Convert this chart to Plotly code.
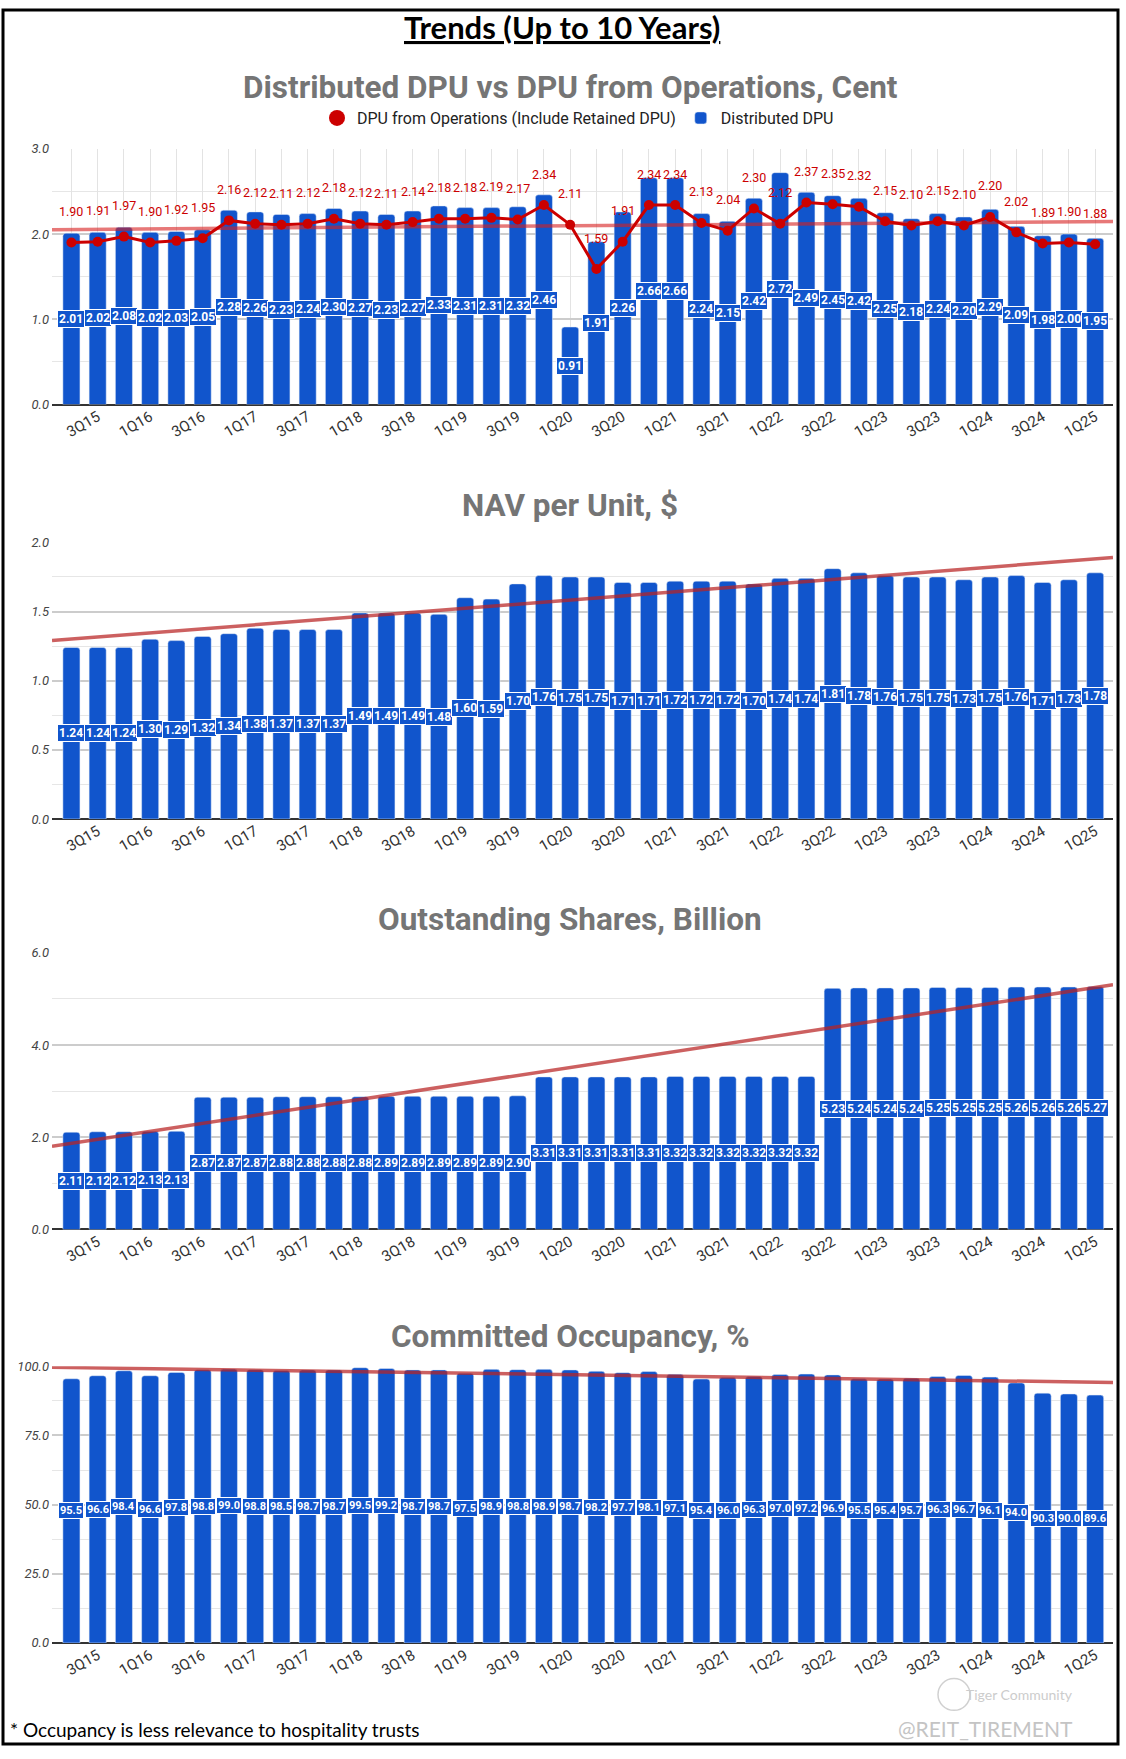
import numpy as np
import plotly.graph_objects as go

W, H = 1126, 1759

quarters = ["2Q15", "3Q15", "4Q15",
            "1Q16", "2Q16", "3Q16", "4Q16",
            "1Q17", "2Q17", "3Q17", "4Q17",
            "1Q18", "2Q18", "3Q18", "4Q18",
            "1Q19", "2Q19", "3Q19", "4Q19",
            "1Q20", "2Q20", "3Q20", "4Q20",
            "1Q21", "2Q21", "3Q21", "4Q21",
            "1Q22", "2Q22", "3Q22", "4Q22",
            "1Q23", "2Q23", "3Q23", "4Q23",
            "1Q24", "2Q24", "3Q24", "4Q24",
            "1Q25"]

dpu_distributed = [2.01, 2.02, 2.08, 2.02, 2.03, 2.05, 2.28, 2.26, 2.23, 2.24,
                   2.30, 2.27, 2.23, 2.27, 2.33, 2.31, 2.31, 2.32, 2.46, 0.91,
                   1.91, 2.26, 2.66, 2.66, 2.24, 2.15, 2.42, 2.72, 2.49, 2.45,
                   2.42, 2.25, 2.18, 2.24, 2.20, 2.29, 2.09, 1.98, 2.00, 1.95]
dpu_operations = [1.90, 1.91, 1.97, 1.90, 1.92, 1.95, 2.16, 2.12, 2.11, 2.12,
                  2.18, 2.12, 2.11, 2.14, 2.18, 2.18, 2.19, 2.17, 2.34, 2.11,
                  1.59, 1.91, 2.34, 2.34, 2.13, 2.04, 2.30, 2.12, 2.37, 2.35,
                  2.32, 2.15, 2.10, 2.15, 2.10, 2.20, 2.02, 1.89, 1.90, 1.88]
nav_per_unit = [1.24, 1.24, 1.24, 1.30, 1.29, 1.32, 1.34, 1.38, 1.37, 1.37,
                1.37, 1.49, 1.49, 1.49, 1.48, 1.60, 1.59, 1.70, 1.76, 1.75,
                1.75, 1.71, 1.71, 1.72, 1.72, 1.72, 1.70, 1.74, 1.74, 1.81,
                1.78, 1.76, 1.75, 1.75, 1.73, 1.75, 1.76, 1.71, 1.73, 1.78]
shares_bn = [2.11, 2.12, 2.12, 2.13, 2.13, 2.87, 2.87, 2.87, 2.88, 2.88,
             2.88, 2.88, 2.89, 2.89, 2.89, 2.89, 2.89, 2.90, 3.31, 3.31,
             3.31, 3.31, 3.31, 3.32, 3.32, 3.32, 3.32, 3.32, 3.32, 5.23,
             5.24, 5.24, 5.24, 5.25, 5.25, 5.25, 5.26, 5.26, 5.26, 5.27]
occupancy = [95.5, 96.6, 98.4, 96.6, 97.8, 98.8, 99.0, 98.8, 98.5, 98.7,
             98.7, 99.5, 99.2, 98.7, 98.7, 97.5, 98.9, 98.8, 98.9, 98.7,
             98.2, 97.7, 98.1, 97.1, 95.4, 96.0, 96.3, 97.0, 97.2, 96.9,
             95.5, 95.4, 95.7, 96.3, 96.7, 96.1, 94.0, 90.3, 90.0, 89.6]

BLUE = "#1155cc"
RED = "#cc0000"
idx = list(range(len(quarters)))
tick_text = [q if i % 2 == 1 else "" for i, q in enumerate(quarters)]
X_RANGE = [-0.74, 39.68]


def px_x(x):
    return x / W


def px_y(y):
    return 1 - y / H


# panels: pixel box of the plot area, y range, major / minor grid step
panels = [
    dict(top=143, bottom=401, rng=[0, 3], dtick=1, minor=0.5, title="Distributed DPU vs DPU from Operations, Cent", title_y=81),
    dict(top=540, bottom=819, rng=[0, 2], dtick=0.5, minor=0.25, title="NAV per Unit, $", title_y=503),
    dict(top=954, bottom=1233, rng=[0, 6], dtick=2, minor=1, title="Outstanding Shares, Billion", title_y=920),
    dict(top=1371, bottom=1650, rng=[0, 100], dtick=25, minor=12.5, title="Committed Occupancy, %", title_y=1341),
]
bar_series = [dpu_distributed, nav_per_unit, shares_bn, occupancy]
label_fmt = ["{:.2f}", "{:.2f}", "{:.2f}", "{:.1f}"]

fig = go.Figure()
annotations = []
layout = {}

for k, p in enumerate(panels):
    n = "" if k == 0 else str(k + 1)
    xa, ya = "x" + n, "y" + n
    vals = bar_series[k]

    fig.add_trace(go.Bar(
        x=idx, y=vals, xaxis=xa, yaxis=ya,
        marker=dict(color=BLUE, cornerradius=3),
        width=0.65, name="Distributed DPU",
        showlegend=(k == 0), legendrank=2, hoverinfo="y"
    ))

    # linear trendline across the whole plot width
    fit_on = dpu_operations if k == 0 else vals
    coef = np.polyfit(idx, fit_on, 1)
    tx = np.array(X_RANGE)
    color = "rgba(215,30,30,0.6)" if k == 0 else "rgba(185,35,35,0.72)"
    fig.add_trace(go.Scatter(
        x=tx, y=np.polyval(coef, tx), xaxis=xa, yaxis=ya,
        mode="lines", line=dict(color=color, width=3.5),
        showlegend=False, hoverinfo="skip"
    ))

    if k == 0:
        fig.add_trace(go.Scatter(
            x=idx, y=dpu_operations, xaxis=xa, yaxis=ya,
            mode="lines+markers", line=dict(color=RED, width=3),
            marker=dict(color=RED, size=10),
            showlegend=False
        ))
        # legend entry shown as a plain dot
        fig.add_trace(go.Scatter(
            x=[None], y=[None], mode="markers",
            marker=dict(color=RED, size=16),
            name="DPU from Operations (Include Retained DPU)",
            legendrank=1
        ))
        for i, v in enumerate(dpu_operations):
            annotations.append(dict(
                x=i, y=v, xref=xa, yref=ya, text="{:.2f}".format(v),
                showarrow=False, yshift=31,
                font=dict(family="Roboto", size=12.5, color=RED)
            ))

    for i, v in enumerate(vals):
        annotations.append(dict(
            x=i, y=v / 2, xref=xa, yref=ya, text="<b>" + label_fmt[k].format(v) + "</b>",
            showarrow=False, bgcolor=BLUE, bordercolor="white", borderwidth=1, borderpad=1,
            font=dict(family="Roboto", size=12 if k < 3 else 11, color="white")
        ))

    layout["xaxis" + n] = dict(
        domain=[px_x(52), px_x(1113)], anchor=ya, range=X_RANGE,
        tickmode="array", tickvals=idx, ticktext=tick_text, tickangle=-30,
        tickfont=dict(family="Roboto", size=15, color="#333333"),
        showgrid=(k == 0), gridcolor="#e3e3e3", gridwidth=1,
        zeroline=False, showline=False, ticks=""
    )
    layout["yaxis" + n] = dict(
        domain=[px_y(p["bottom"]), px_y(p["top"])], anchor=xa, range=p["rng"],
        dtick=p["dtick"], tickformat=".1f",
        tickfont=dict(family="Roboto", size=13, color="#444444", style="italic"),
        showgrid=True, gridcolor="#cccccc", gridwidth=1.5,
        minor=dict(dtick=p["minor"], showgrid=True, gridcolor="#e6e6e6", gridwidth=1),
        zeroline=True, zerolinecolor="#333333", zerolinewidth=2,
        showline=False, ticks="", ticklabelstandoff=2
    )

    annotations.append(dict(
        x=px_x(570), y=px_y(p["title_y"]), xref="paper", yref="paper",
        text="<b>" + p["title"] + "</b>", showarrow=False,
        xanchor="center", yanchor="middle",
        font=dict(family="Roboto", size=31.5, color="#757575")
    ))

annotations.append(dict(
    x=px_x(562), y=px_y(20), xref="paper", yref="paper",
    text="<b><u>Trends (Up to 10 Years)</u></b>", showarrow=False,
    xanchor="center", yanchor="middle",
    font=dict(family="Lato", size=31, color="black")
))
annotations.append(dict(
    x=px_x(8), y=px_y(1737), xref="paper", yref="paper",
    text="* Occupancy is less relevance to hospitality trusts", showarrow=False,
    xanchor="left", yanchor="middle",
    font=dict(family="Lato", size=19, color="black")
))
annotations.append(dict(
    x=px_x(1075), y=px_y(1736), xref="paper", yref="paper",
    text="@REIT_TIREMENT", showarrow=False,
    xanchor="right", yanchor="middle",
    font=dict(family="Lato", size=21, color="#c4c4c4")
))
annotations.append(dict(
    x=px_x(1075), y=px_y(1702), xref="paper", yref="paper",
    text="Tiger Community", showarrow=False,
    xanchor="right", yanchor="middle",
    font=dict(family="Lato", size=14, color="#cccccc")
))

shapes = [
    dict(type="rect", xref="paper", yref="paper",
         x0=px_x(3), x1=px_x(1118), y0=px_y(1752), y1=px_y(3),
         line=dict(color="black", width=3)),
    dict(type="circle", xref="paper", yref="paper",
         x0=px_x(938), x1=px_x(970), y0=px_y(1718), y1=px_y(1686),
         line=dict(color="#d0d0d0", width=1.5)),
]

fig.update_layout(
    width=W, height=H,
    margin=dict(l=0, r=0, t=0, b=0),
    paper_bgcolor="white", plot_bgcolor="white",
    bargap=0.35,
    showlegend=True,
    legend=dict(orientation="h", x=px_x(578), y=px_y(112), xanchor="center", yanchor="middle",
                font=dict(family="Roboto", size=16, color="#222222"),
                itemsizing="trace"),
    annotations=annotations,
    shapes=shapes,
    **layout
)

# drop the page's default body margin so the figure sits at the window corner
fig.write_html("out.html", config={"displayModeBar": False},
               post_script="document.body.style.margin = '0';")
